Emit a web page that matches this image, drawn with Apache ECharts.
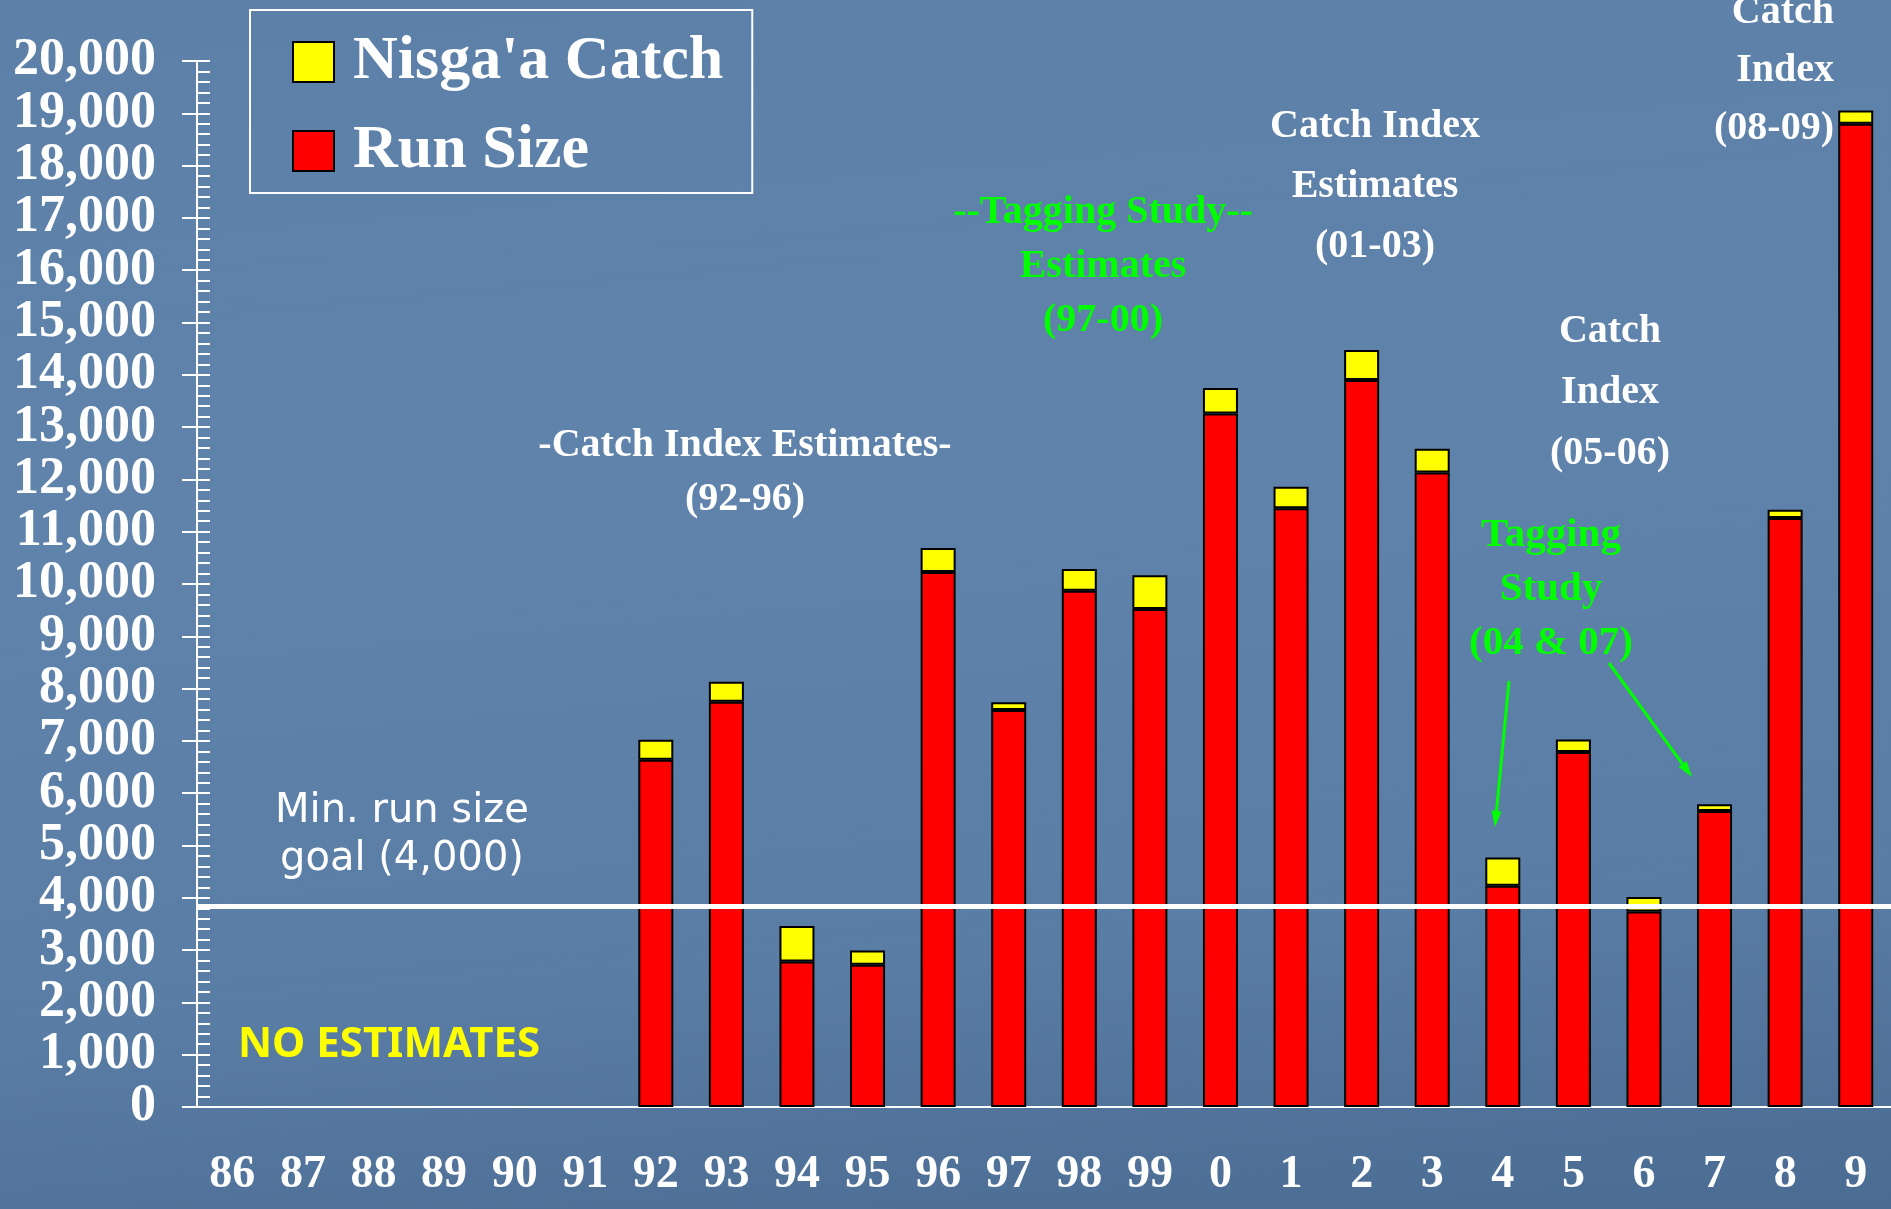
<!DOCTYPE html>
<html lang="en">
<head>
  <meta charset="UTF-8">
  <title>Nisga'a Catch and Run Size</title>
  <style>
    html, body {
      width: 100%;
      height: 100%;
      margin: 0;
    }
    #chart {
      width: 1891px;
      height: 1209px;
      background: linear-gradient(175deg, #5c80a8 0%, #6083ab 40%, #5a7da5 75%, #4a6b92 100%);
    }
  </style>
</head>
<body>
  <div id="chart"></div>
  <script src="https://cdn.jsdelivr.net/npm/echarts@6/dist/echarts.min.js"></script>
  <script>
    // years 1986 - 2009
    var years = ['86', '87', '88', '89', '90', '91', '92', '93', '94', '95', '96', '97', '98', '99',
      '0', '1', '2', '3', '4', '5', '6', '7', '8', '9'];
    var runSize = [null, null, null, null, null, null, 6640, 7750, 2780, 2720, 10230, 7590, 9870, 9520,
      13260, 11450, 13900, 12130, 4230, 6790, 3740, 5660, 11260, 18800];
    var nisgaaCatch = [null, null, null, null, null, null, 380, 380, 680, 270, 460, 150, 415, 645,
      490, 410, 575, 455, 540, 235, 275, 130, 160, 255];
    var goalLine = 3830;

    var serif = '"Liberation Serif", "Times New Roman", serif';
    var sans = '"DejaVu Sans", "Noto Sans", sans-serif';

    function note(text, x, y, color, size, lh, align) {
      return {
        type: 'text', z: 100,
        style: {
          text: text, x: x, y: y, fill: color,
          font: 'bold ' + size + 'px ' + serif,
          align: align || 'center', verticalAlign: 'middle', lineHeight: lh
        }
      };
    }

    // green arrow with a small head
    function arrow(x1, y1, x2, y2) {
      var dx = x2 - x1, dy = y2 - y1, len = Math.sqrt(dx * dx + dy * dy);
      var ux = dx / len, uy = dy / len, bx = x2 - ux * 16, by = y2 - uy * 16;
      return [{
        type: 'line', z: 100,
        shape: { x1: x1, y1: y1, x2: bx, y2: by },
        style: { stroke: '#00ff00', lineWidth: 3 }
      }, {
        type: 'polygon', z: 100,
        shape: { points: [[x2, y2], [bx - uy * 5, by + ux * 5], [bx + uy * 5, by - ux * 5]] },
        style: { fill: '#00ff00' }
      }];
    }

    var graphics = [
      note('-Catch Index Estimates-\n(92-96)', 745, 473, '#fff', 40, 54),
      note('--Tagging Study--\nEstimates\n(97-00)', 1103, 267, '#00ff00', 40, 54),
      note('Catch Index\nEstimates\n(01-03)', 1375, 187, '#fff', 40, 60),
      note('Catch\nIndex\n(05-06)', 1610, 393, '#fff', 40, 61),
      note('Catch\nIndex\n(08-09)', 1834, 71, '#fff', 40, 58, 'right'),
      note('Tagging\nStudy\n(04 & 07)', 1551, 589, '#00ff00', 41, 54),
      {
        type: 'text', z: 100,
        style: {
          text: 'Min. run size\ngoal (4,000)', x: 402, y: 836, fill: '#fff',
          font: '40px ' + sans, align: 'center', verticalAlign: 'middle', lineHeight: 48
        }
      },
      {
        type: 'text', z: 100,
        style: {
          text: 'NO ESTIMATES', x: 389, y: 1045, fill: '#ffff00',
          font: 'bold 42px "Noto Sans", sans-serif', align: 'center', verticalAlign: 'middle'
        }
      }
    ].concat(arrow(1509, 681, 1495, 827), arrow(1609, 663, 1692, 777));

    var myChart = echarts.init(document.getElementById('chart'));
    var option = {
      animation: false,
      legend: {
        data: ["Nisga'a Catch", 'Run Size'],
        orient: 'vertical',
        left: 250,
        top: 10,
        padding: [17, 29, 7, 42],
        itemWidth: 41,
        itemHeight: 40,
        itemGap: 19,
        borderColor: '#fff',
        borderWidth: 2,
        selectedMode: false,
        icon: 'rect',
        textStyle: {
          color: '#fff', fontSize: 62, fontWeight: 'bold', fontFamily: serif,
          lineHeight: 62, padding: [8, 0, 0, 14]
        }
      },
      grid: { left: 197, right: 0, top: 61, bottom: 102, containLabel: false },
      xAxis: {
        type: 'category',
        data: years,
        axisLine: { lineStyle: { color: '#fff', width: 2 } },
        axisTick: { length: 15, interval: 0, lineStyle: { color: '#fff', width: 2 } },
        axisLabel: {
          interval: 0, margin: 45, color: '#fff',
          fontSize: 46, fontWeight: 'bold', fontFamily: serif
        },
        splitLine: { show: false }
      },
      yAxis: [{
        type: 'value',
        min: 0, max: 20000, interval: 1000,
        axisLine: { show: true, lineStyle: { color: '#fff', width: 2 } },
        axisTick: { show: true, length: 15, lineStyle: { color: '#fff', width: 2 } },
        axisLabel: {
          margin: 41, color: '#fff', fontSize: 52, fontWeight: 'bold', fontFamily: serif,
          padding: [8, 0, 0, 0],
          formatter: function (v) { return String(v).replace(/\B(?=(\d{3})+(?!\d))/g, ','); }
        },
        splitLine: { show: false }
      }, {
        type: 'value',
        position: 'left',
        min: 0, max: 20000, interval: 1000,
        axisLine: { show: false },
        axisTick: { show: true, inside: true, length: 13, lineStyle: { color: '#fff', width: 2 } },
        minorTick: { show: true, splitNumber: 5, length: 13, lineStyle: { color: '#fff', width: 2 } },
        axisLabel: { show: false },
        splitLine: { show: false }
      }],
      series: [{
        name: 'Run Size',
        type: 'bar',
        stack: 'total',
        barWidth: 35,
        data: runSize,
        itemStyle: { color: '#ff0000', borderColor: '#000', borderWidth: 2 },
        markLine: {
          silent: true,
          symbol: 'none',
          label: { show: false },
          lineStyle: { color: '#fff', width: 5, type: 'solid' },
          data: [{ yAxis: goalLine }]
        }
      }, {
        name: "Nisga'a Catch",
        type: 'bar',
        stack: 'total',
        barWidth: 35,
        data: nisgaaCatch,
        itemStyle: { color: '#ffff00', borderColor: '#000', borderWidth: 2 }
      }],
      graphic: graphics
    };

    myChart.setOption(option);
  </script>
</body>
</html>
